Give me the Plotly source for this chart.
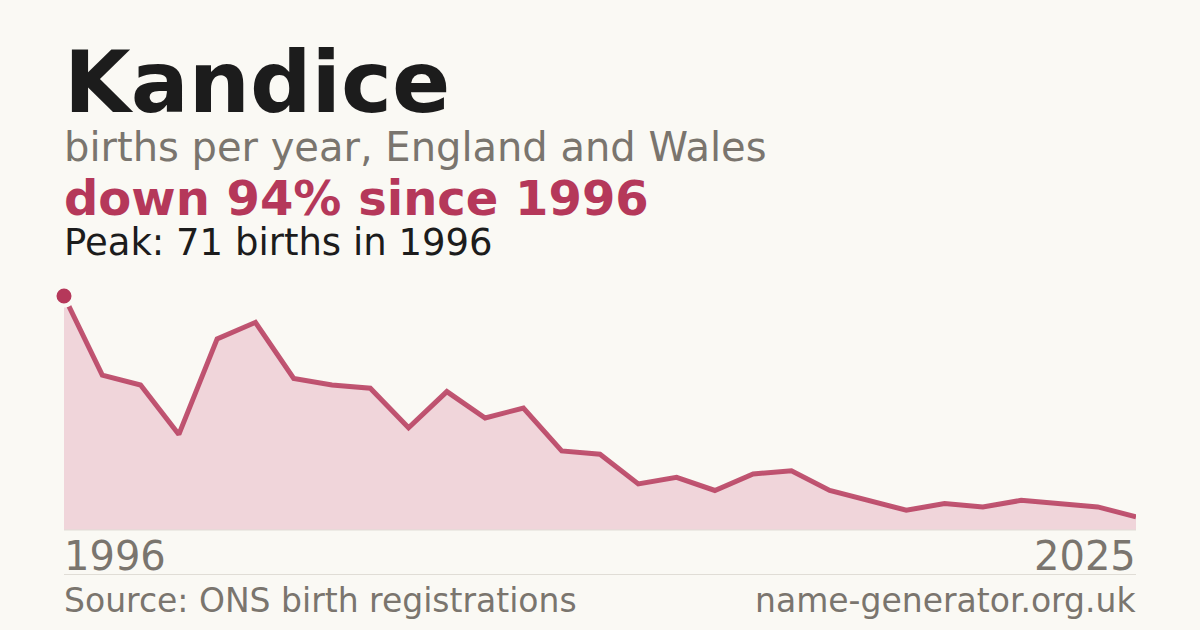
import plotly.graph_objects as go

# births per year for the name Kandice
years = list(range(1996, 2025))
births = [71, 47, 44, 29, 58, 63, 46, 44, 43, 31, 42, 34, 37, 24, 23,
          14, 16, 12, 17, 18, 12, 9, 6, 8, 7, 9, 8, 7, 4]
end_labels = ["1996", "2025"]

BG = "#faf9f4"
RED = "#b5385a"
GREY = "#7a756e"
DARK = "#1c1c1c"
RULE = "#e0ddd6"
FONT = "DejaVu Sans"

TOP, BOT = 290, 100
PH = 630 - TOP - BOT


def py(pix):
    # pixel row -> paper y
    return (630 - BOT - pix) / PH


fig = go.Figure()
fig.add_trace(go.Scatter(x=years, y=births, mode="lines", fill="tozeroy",
                         fillcolor="#f0d5da",
                         line=dict(color="rgba(181,56,90,0.85)", width=5),
                         hoverinfo="skip", cliponaxis=False))
pk = births.index(max(births))
fig.add_trace(go.Scatter(x=[years[pk]], y=[births[pk]], mode="markers",
                         marker=dict(size=19, color=RED, line=dict(color=BG, width=4)),
                         hoverinfo="skip", cliponaxis=False))

ann = [
    ("Kandice", 86, DARK, True, 0, "left", 82),
    ("births per year, England and Wales", 40, GREY, False, 0, "left", 147),
    ("down 94% since 1996", 48, RED, True, 0, "left", 198),
    ("Peak: 71 births in 1996", 37, DARK, False, 0, "left", 242),
    (end_labels[0], 40, GREY, False, 0, "left", 556),
    (end_labels[1], 40, GREY, False, 1, "right", 556),
    ("Source: ONS birth registrations", 33, GREY, False, 0, "left", 600),
    ("name-generator.org.uk", 33, GREY, False, 1, "right", 600),
]
for text, size, col, bold, x, xa, pix in ann:
    fig.add_annotation(text=f"<b>{text}</b>" if bold else text, x=x, xanchor=xa,
                       y=py(pix), yanchor="middle", xref="paper", yref="paper",
                       showarrow=False, xshift=-2 if xa == "left" else 2,
                       font=dict(family=FONT, size=size, color=col))

# baseline under the area and the footer rule
fig.add_shape(type="line", xref="paper", yref="paper", x0=0, x1=1,
              y0=0, y1=0, line=dict(color=RULE, width=1))
fig.add_shape(type="line", xref="paper", yref="paper", x0=0, x1=1,
              y0=py(574.5), y1=py(574.5), line=dict(color=RULE, width=1))

fig.update_layout(
    width=1200, height=630, paper_bgcolor=BG, plot_bgcolor=BG,
    margin=dict(l=64, r=64, t=TOP, b=BOT), showlegend=False,
    xaxis=dict(range=[years[0], years[-1]], visible=False),
    yaxis=dict(range=[0, max(births) * PH / 234], visible=False),
)

fig.write_html("out.html", config={"displayModeBar": False},
               post_script="document.body.style.margin='0';")
